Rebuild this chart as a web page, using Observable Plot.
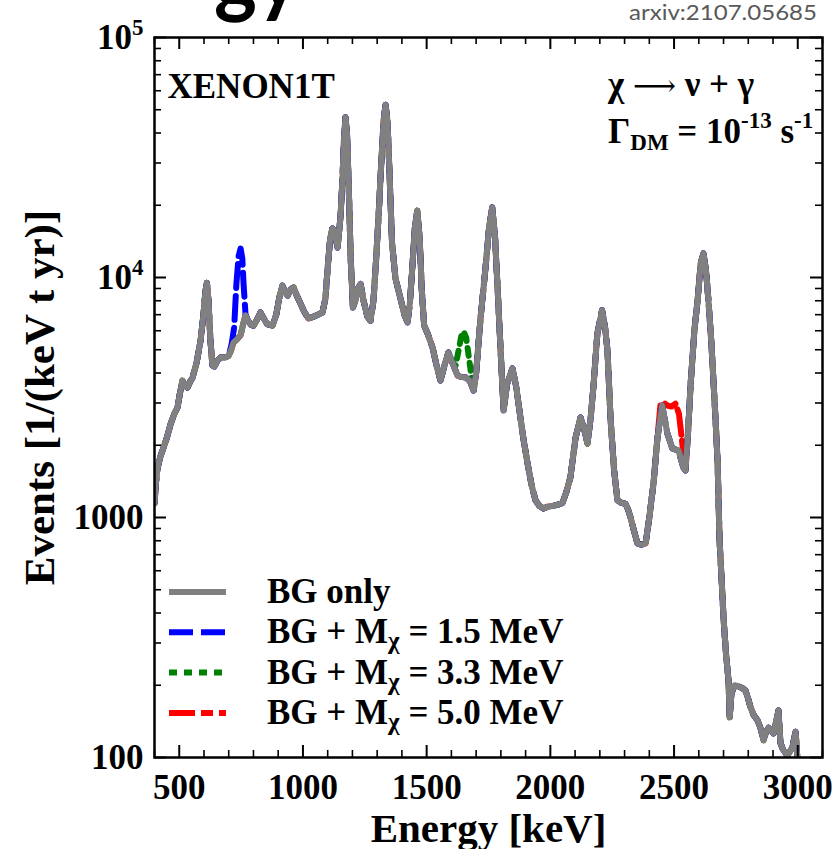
<!DOCTYPE html>
<html><head><meta charset="utf-8">
<script src="https://cdn.jsdelivr.net/npm/d3@7"></script>
<script src="https://cdn.jsdelivr.net/npm/@observablehq/plot@0.6"></script>
<style>
html,body{margin:0;padding:0;background:#fff;}
#wrap{position:relative;width:839px;height:849px;overflow:hidden;}
svg text{white-space:pre;}
</style></head><body><div id="wrap"></div>
<script>
// ---- data ----
const energy = [400,406,412,424,436,450,465,480,493,503,
513,522,533,545,553,570,586,598,606,612,
618,626,634,642,654,668,685,699,710,719,
735,748,760,768,778,790,800,815,828,840,
855,877,892,905,917,928,938,950,962,975,
990,1005,1022,1040,1060,1079,1091,1100,1110,1119,
1128,1140,1152,1160,1166,1172,1178,1185,1193,1202,
1212,1222,1233,1245,1260,1273,1285,1296,1308,1318,
1326,1334,1342,1350,1360,1374,1394,1410,1423,1432,
1442,1452,1462,1472,1480,1490,1505,1524,1540,1556,
1572,1588,1605,1625,1640,1657,1675,1690,1700,1718,
1738,1752,1765,1776,1786,1799,1811,1825,1847,1862,
1879,1892,1908,1925,1940,1955,1972,1990,2013,2030,
2049,2065,2081,2102,2122,2136,2150,2163,2175,2190,
2209,2221,2231,2243,2257,2271,2288,2304,2314,2324,
2338,2352,2368,2385,2400,2417,2433,2452,2473,2493,
2518,2538,2546,2556,2567,2582,2595,2608,2619,2630,
2639,2650,2660,2670,2676,2684,2692,2700,2710,2720,
2725,2732,2745,2760,2775,2789,2800,2809,2822,2837,
2849,2862,2872,2882,2892,2902,2912,2922,2930,2940,
2958,2978,2991,2996,3000];
const bgOnly = [1150,1400,1600,1800,1950,2150,2450,2700,2870,3300,
3720,3550,3480,3700,3800,4400,5450,7000,8800,9500,
8000,5500,4300,4250,4500,4650,4650,4700,5000,5350,
5550,5750,6500,6950,6600,6350,6300,6700,7150,6800,
6400,6300,7000,8300,9250,8700,8400,8900,9100,8400,
7800,7200,6750,6850,7000,7150,8200,11000,14500,16000,
15500,13300,18000,26000,38000,46500,40000,24000,12000,7500,
8000,9000,9400,8000,6900,6600,8000,12000,20000,32000,
45000,52500,44000,27000,14000,9900,8200,7000,6500,7800,
11000,16000,19000,14500,9000,6300,5800,5100,4300,3720,
4300,4870,4400,3900,3850,3840,3700,3380,4000,6800,
11000,16000,19600,15000,9400,4960,2790,3600,4180,3500,
2610,2100,1680,1350,1180,1120,1090,1110,1120,1130,
1150,1280,1470,2150,2610,2350,2030,2600,3600,5840,
7300,6200,4960,2610,1600,1180,1150,1140,1080,1000,
880,780,770,780,1000,1390,2150,2930,2240,1940,
1900,1610,1570,2200,3600,6000,8000,11500,12600,10500,
8000,5500,3600,2300,1700,800,560,380,270,210,
147,185,200,198,195,190,175,162,150,143,
133,118,128,133,130,126,140,157,115,108,
102,110,128,110,90];

// signal lines (BG + line), only where they leave the BG curve
const m15Energy = [700,712,722,731,740,748,755,760,768,778,790];
const m15Events = [4700,5300,6200,9400,12300,13200,12000,9400,7000,6600,6350];
const m33Energy = [1605,1617,1628,1640,1650,1660,1670,1680,1690];
const m33Events = [4400,4300,4900,5700,5950,5600,4700,3950,3380];
const m50Energy = [2433,2445,2460,2475,2490,2506,2520,2532,2542,2546];
const m50Events = [2150,2950,3000,2920,2900,2980,2700,2100,1650,1570];

const massLabels = ["1.5","3.3","5.0"];
const xMajor = [500,1000,1500,2000,2500,3000];
const xMinor = [400,600,700,800,900,1100,1200,1300,1400,1600,1700,1800,1900,2100,2200,2300,2400,2600,2700,2800,2900,3100];
const yMajor = [100,1000,10000,100000];
const yMinor = [200,300,400,500,600,700,800,900,2000,3000,4000,5000,6000,7000,8000,9000,20000,30000,40000,50000,60000,70000,80000,90000];
const yTickText = {100:"100",1000:"1000",10000:"10^4",100000:"10^5"};

// ---- build tables ----
const bg = energy.map((e,i)=>({e, v:bgOnly[i]}));
function withPeak(pE, pV){
  const lo = pE[0], hi = pE[pE.length-1];
  return bg.filter(d => d.e < lo || d.e > hi)
    .concat(pE.map((e,i)=>({e, v:pV[i]})))
    .sort((a,b)=>a.e-b.e);
}
const s15 = withPeak(m15Energy, m15Events);
const s33 = withPeak(m33Energy, m33Events);
const s50 = withPeak(m50Energy, m50Events);

const W=839, H=849, mL=154, mR=17, mT=37, mB=92;
const iw = W-mL-mR, ih = H-mT-mB;
const FONT = "'Liberation Serif','Times New Roman',serif";
const GRAY="#808080", BLUE="#0000ff", GREEN="#008000", RED="#ff0000";

const plot = Plot.plot({
  width: W, height: H,
  marginLeft: mL, marginRight: mR, marginTop: mT, marginBottom: mB,
  style: {fontFamily: FONT, fontWeight: "bold", background: "#fff", overflow: "visible", color:"#000"},
  x: {domain: [400, 3100]},
  y: {type: "log", domain: [100, 1e5]},
  marks: [
    Plot.line(s50, {x:"e", y:"v", stroke:RED, strokeWidth:6, strokeDasharray:"26,6,12,6", clip:true}),
    Plot.line(s33, {x:"e", y:"v", stroke:GREEN, strokeWidth:6, strokeDasharray:"8,7", clip:true}),
    Plot.line(s15, {x:"e", y:"v", stroke:BLUE, strokeWidth:6, strokeDasharray:"24,8", clip:true}),
    Plot.line(bg, {x:"e", y:"v", stroke:GRAY, strokeWidth:6, clip:true}),
    Plot.tickX(xMajor, {x:d=>d, insetTop: ih-12, stroke:"#000", strokeWidth:2}),
    Plot.tickX(xMajor, {x:d=>d, insetBottom: ih-12, stroke:"#000", strokeWidth:2}),
    Plot.tickX(xMinor, {x:d=>d, insetTop: ih-7, stroke:"#000", strokeWidth:1.6}),
    Plot.tickX(xMinor, {x:d=>d, insetBottom: ih-7, stroke:"#000", strokeWidth:1.6}),
    Plot.tickY(yMajor, {y:d=>d, insetRight: iw-12, stroke:"#000", strokeWidth:2}),
    Plot.tickY(yMajor, {y:d=>d, insetLeft: iw-12, stroke:"#000", strokeWidth:2}),
    Plot.tickY(yMinor, {y:d=>d, insetRight: iw-7, stroke:"#000", strokeWidth:1.6}),
    Plot.tickY(yMinor, {y:d=>d, insetLeft: iw-7, stroke:"#000", strokeWidth:1.6}),
    Plot.frame({stroke:"#000", strokeWidth:2.5}),
    Plot.axisX({ticks:xMajor, tickSize:0, tickPadding:17, fontSize:35, fontWeight:"bold", label:null, tickFormat:d=>String(d)}),
    Plot.axisY({ticks:yMajor, tickSize:0, tickPadding:11, fontSize:35, fontWeight:"bold", label:null, tickFormat:d=>yTickText[d]}),
    Plot.text(["Energy [keV]"], {text:d=>d, frameAnchor:"bottom", dy:84, lineAnchor:"bottom", textAnchor:"middle", fontSize:41, fontWeight:"bold"}),
    Plot.text(["Events [1/(keV t yr)]"], {text:d=>d, frameAnchor:"left", dx:-101, rotate:-90, lineAnchor:"bottom", textAnchor:"middle", fontSize:43, fontWeight:"bold"}),
    Plot.text(["XENON1T"], {text:d=>d, frameAnchor:"top-left", dx:13, dy:60, lineAnchor:"bottom", textAnchor:"start", fontSize:35, fontWeight:"bold"})
  ]
});
document.getElementById("wrap").appendChild(plot);

const svg = d3.select(plot);
// superscripts on y tick labels
svg.selectAll('g[aria-label="y-axis tick label"] text').each(function(){
  const t = this.textContent;
  if (t.includes("^")) {
    const [b,e] = t.split("^");
    this.textContent = b;
    d3.select(this).append("tspan").attr("dy", -14).attr("font-size", 23).text(e);
  }
});

const g = svg.append("g").attr("font-family", FONT).attr("font-weight","bold").attr("font-size",35)
  .attr("fill","#000").attr("text-anchor","start");
// decay annotation
const tc = g.append("text").attr("x",608).attr("y",96);
tc.append("tspan").text("χ ");
tc.append("tspan").attr("font-family","'DejaVu Serif','DejaVu Sans',serif").attr("font-weight","normal").attr("font-size",30).text("⟶");
tc.append("tspan").text(" ν + γ");
const tg = g.append("text").attr("x",608).attr("y",143);
tg.append("tspan").text("Γ");
tg.append("tspan").attr("font-size",23).attr("dy",7).text("DM");
tg.append("tspan").attr("dy",-7).text(" = 10");
tg.append("tspan").attr("font-size",23).attr("dy",-15).text("-13");
tg.append("tspan").attr("dy",15).text(" s");
tg.append("tspan").attr("font-size",23).attr("dy",-15).text("-1");

// legend
const legend = [
  {color:GRAY, dash:null, mass:null},
  {color:BLUE, dash:"24,8", mass:massLabels[0]},
  {color:GREEN, dash:"8,7", mass:massLabels[1]},
  {color:RED, dash:"26,6,12,6", mass:massLabels[2]}
];
legend.forEach((d,i)=>{
  const y = 592 + 40.3*i;
  g.append("line").attr("x1",169).attr("x2",226).attr("y1",y).attr("y2",y)
    .attr("stroke",d.color).attr("stroke-width",6).attr("stroke-dasharray",d.dash);
  const t = g.append("text").attr("x",267).attr("y",y+11);
  if (d.mass === null) { t.text("BG only"); }
  else {
    t.append("tspan").text("BG + M");
    t.append("tspan").attr("font-size",25).attr("dy",6).text("χ");
    t.append("tspan").attr("dy",-6).text(" = " + d.mass + " MeV");
  }
});

// header fragments
svg.append("text").attr("x",817).attr("y",20).attr("text-anchor","end")
  .attr("font-family","Lato,'Open Sans',sans-serif").attr("font-weight","normal").attr("font-size",21).attr("fill","#595959")
  .attr("textLength",188).attr("lengthAdjust","spacingAndGlyphs").text("arxiv:2107.05685");
svg.append("text").attr("x",214).attr("y",6).attr("text-anchor","start")
  .attr("font-family","Lato,'Open Sans',sans-serif").attr("font-weight","bold").attr("font-size",88).attr("fill","#000")
  .attr("textLength",86).attr("lengthAdjust","spacingAndGlyphs").text("gy");
</script></body></html>
